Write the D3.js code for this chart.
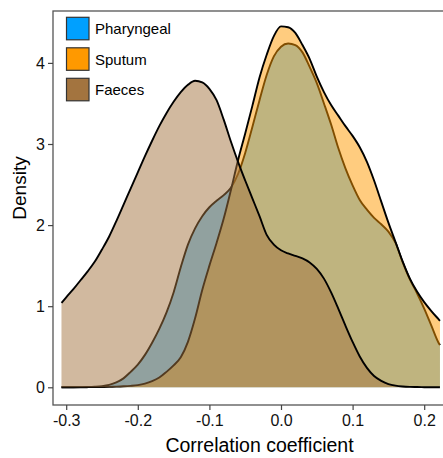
<!DOCTYPE html>
<html>
<head>
<meta charset="utf-8">
<script src="https://cdn.jsdelivr.net/npm/d3@7"></script>
<style>
  body { margin: 0; background: #fff; }
  svg text { font-family: "Liberation Sans", Arial, sans-serif; }
</style>
</head>
<body>
<div id="chart"></div>
<script>
  // group names and colours, in drawing order
  const groups = ['Pharyngeal', 'Sputum', 'Faeces'];
  const groupColors = ['#00A0FF', '#FF9900', '#A3743F'];

  const gridX = [-0.3066, -0.30, -0.29, -0.28, -0.27, -0.26, -0.25, -0.24, -0.23, -0.22,
    -0.21, -0.20, -0.19, -0.18, -0.17, -0.16, -0.15, -0.14, -0.13, -0.12,
    -0.11, -0.10, -0.09, -0.08, -0.07, -0.06, -0.05, -0.04, -0.03, -0.02,
    -0.01, 0.00, 0.01, 0.02, 0.03, 0.04, 0.05, 0.06, 0.07, 0.08,
    0.09, 0.10, 0.11, 0.12, 0.13, 0.14, 0.15, 0.16, 0.17, 0.18,
    0.19, 0.20, 0.21, 0.22, 0.222];

  const pharyngealY = [0, 0, 0.0005, 0.002, 0.004, 0.008, 0.015, 0.03, 0.06, 0.11,
    0.19, 0.28, 0.40, 0.55, 0.72, 0.92, 1.17, 1.48, 1.76, 1.96,
    2.11, 2.22, 2.30, 2.37, 2.46, 2.63, 2.89, 3.21, 3.54, 3.85,
    4.08, 4.20, 4.24, 4.22, 4.13, 3.95, 3.75, 3.50, 3.24, 2.95,
    2.70, 2.49, 2.31, 2.19, 2.09, 2.01, 1.92, 1.78, 1.54, 1.33,
    1.16, 0.97, 0.76, 0.55, 0.52];

  const sputumY = [0, 0, 0.0005, 0.001, 0.0015, 0.002, 0.003, 0.005, 0.008, 0.012,
    0.018, 0.027, 0.045, 0.075, 0.12, 0.19, 0.27, 0.37, 0.56, 0.85,
    1.20, 1.50, 1.78, 2.08, 2.43, 2.80, 3.13, 3.47, 3.82, 4.10,
    4.33, 4.45, 4.44, 4.37, 4.22, 4.05, 3.83, 3.64, 3.48, 3.35,
    3.22, 3.10, 2.96, 2.78, 2.55, 2.29, 2.03, 1.79, 1.55, 1.34,
    1.18, 1.05, 0.94, 0.84, 0.82];

  const faecesY = [1.04, 1.11, 1.21, 1.32, 1.43, 1.55, 1.70, 1.86, 2.05, 2.25,
    2.45, 2.65, 2.85, 3.04, 3.22, 3.38, 3.52, 3.64, 3.73, 3.78,
    3.76, 3.68, 3.54, 3.30, 3.03, 2.78, 2.55, 2.33, 2.11, 1.88,
    1.76, 1.69, 1.65, 1.62, 1.59, 1.54, 1.46, 1.34, 1.17, 0.97,
    0.76, 0.56, 0.38, 0.24, 0.14, 0.08, 0.04, 0.02, 0.01, 0.005,
    0.003, 0.001, 0, 0, 0];

  const xTicks = [-0.3, -0.2, -0.1, 0.0, 0.1, 0.2];
  const yTicks = [0, 1, 2, 3, 4];

  const seriesY = [pharyngealY, sputumY, faecesY];

  const width = 443, height = 458;
  const panelLeft = 53, panelTop = 11, panelBottom = 405, panelRight = 443;

  const svg = d3.select('#chart').append('svg')
    .attr('width', width)
    .attr('height', height);

  const x = d3.scaleLinear().domain([-0.31844, 0.22626]).range([panelLeft, panelRight]);
  const y = d3.scaleLinear().domain([-0.2183, 4.640]).range([panelBottom, panelTop]);

  const area = d3.area()
    .x(d => x(d[0]))
    .y0(y(0))
    .y1(d => y(d[1]))
    .curve(d3.curveMonotoneX);

  const line = d3.line()
    .x(d => x(d[0]))
    .y(d => y(d[1]))
    .curve(d3.curveMonotoneX);

  // each group: translucent fill, then its upper outline
  groups.forEach(function (name, k) {
    let pts = gridX.map((v, i) => [v, seriesY[k][i]]);
    svg.append('path')
      .datum(pts)
      .attr('d', area)
      .attr('fill', groupColors[k])
      .attr('fill-opacity', 0.5);
    svg.append('path')
      .datum(pts)
      .attr('d', line)
      .attr('fill', 'none')
      .attr('stroke', '#000')
      .attr('stroke-width', 1.9)
      .attr('stroke-linejoin', 'round');
  });

  // panel border (right side runs off the page)
  svg.append('rect')
    .attr('x', panelLeft)
    .attr('y', panelTop)
    .attr('width', 420)
    .attr('height', panelBottom - panelTop)
    .attr('fill', 'none')
    .attr('stroke', '#555')
    .attr('stroke-width', 1.3);

  let xAxis = svg.append('g')
    .attr('transform', 'translate(0,' + panelBottom + ')')
    .call(d3.axisBottom(x).tickValues(xTicks).tickSize(5).tickPadding(5)
      .tickFormat(d => d.toFixed(1)));
  let yAxis = svg.append('g')
    .attr('transform', 'translate(' + panelLeft + ',0)')
    .call(d3.axisLeft(y).tickValues(yTicks).tickSize(5).tickPadding(3)
      .tickFormat(d3.format('d')));

  [xAxis, yAxis].forEach(function (g) {
    g.select('.domain').remove();
    g.selectAll('.tick line').attr('stroke', '#444').attr('stroke-width', 1.2);
    g.selectAll('.tick text')
      .attr('fill', '#111')
      .style('font-size', '16px')
      .style('font-family', '"Liberation Sans", Arial, sans-serif');
  });

  svg.append('text')
    .attr('x', 259.5)
    .attr('y', 451.5)
    .attr('text-anchor', 'middle')
    .style('font-size', '19.5px')
    .text('Correlation coefficient');

  svg.append('text')
    .attr('transform', 'translate(25.5,188) rotate(-90)')
    .attr('text-anchor', 'middle')
    .style('font-size', '19px')
    .text('Density');

  // legend
  let legend = svg.append('g');
  groups.forEach(function (name, i) {
    let ly = 17.3 + i * 30.5;
    legend.append('rect')
      .attr('x', 66.5)
      .attr('y', ly)
      .attr('width', 22.5)
      .attr('height', 22.5)
      .attr('fill', groupColors[i])
      .attr('stroke', '#333')
      .attr('stroke-width', 1.2);
    legend.append('text')
      .attr('x', 95)
      .attr('y', ly + 11.5)
      .attr('dy', '0.35em')
      .style('font-size', '15px')
      .text(name);
  });
</script>
</body>
</html>
